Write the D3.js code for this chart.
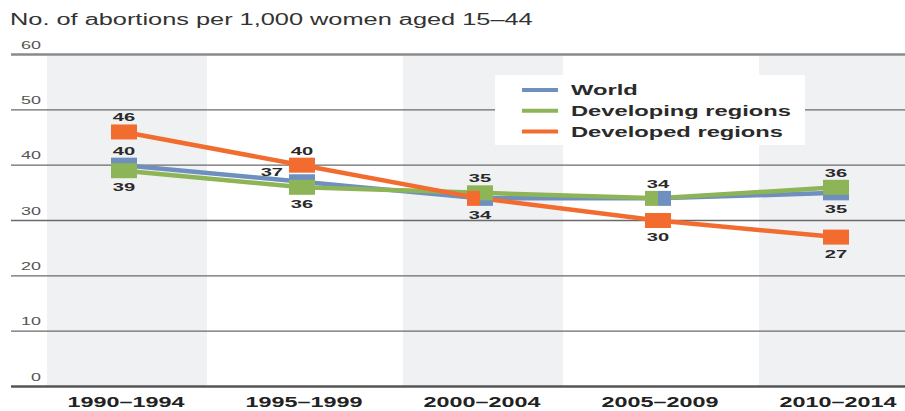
<!DOCTYPE html>
<html>
<head>
<meta charset="utf-8">
<script src="https://cdn.jsdelivr.net/npm/d3@7/dist/d3.min.js"></script>
<style>
  html, body { margin: 0; padding: 0; background: #fff; }
  svg { display: block; font-family: "Liberation Sans", Arial, Helvetica, sans-serif; }
</style>
</head>
<body>
<svg id="chart" width="905" height="411"></svg>
<script>
// Abortion rates per 1,000 women aged 15–44, by five-year period
const periods = ["1990–1994", "1995–1999", "2000–2004", "2005–2009", "2010–2014"];
const world = [40, 37, 34, 34, 35];
const developing = [39, 36, 35, 34, 36];
const developed = [46, 40, 34, 30, 27];
const yTicks = [0, 10, 20, 30, 40, 50, 60];
const titleText = "No. of abortions per 1,000 women aged 15–44";

// where each value label sits relative to its marker (null = shared label drawn by another series)
const worldLabelPos = ["above", "left", "below", "above", "below"];
const developingLabelPos = ["below", "below", "above", null, "above"];
const developedLabelPos = ["above", "above", null, "below", "below"];

const series = [
  { name: "World", values: world, color: "#6f8fbf", labelPos: worldLabelPos },
  { name: "Developing regions", values: developing, color: "#8db456", labelPos: developingLabelPos },
  { name: "Developed regions", values: developed, color: "#f26c30", labelPos: developedLabelPos }
];
// left-to-right order when markers with equal values share one slot
const sideOrder = ["Developed regions", "Developing regions", "World"];

const svg = d3.select("#chart");
const W = 905;

const x = d3.scalePoint().domain(periods).range([124, 836]);
const y = d3.scaleLinear().domain([0, 60]).range([386.5, 54.5]);

const bandW = 160;
const bandShift = 3;
const markW = 26, markH = 15;

// horizontally stretched text helper
function stretched(sel, sx) {
  return sel.attr("transform", d => `translate(${d.tx},${d.ty}) scale(${sx},1)`);
}

// alternating shaded columns
svg.append("g").selectAll("rect")
  .data(periods.filter((p, i) => i % 2 === 0))
  .join("rect")
  .attr("x", d => x(d) - bandW / 2 + bandShift)
  .attr("width", d => Math.min(bandW, W - (x(d) - bandW / 2 + bandShift)))
  .attr("y", y(60) + 1)
  .attr("height", y(0) - y(60) - 1)
  .attr("fill", "#f0f1f3");

// horizontal gridlines
svg.append("g").selectAll("line")
  .data(yTicks)
  .join("line")
  .attr("x1", 11).attr("x2", W)
  .attr("y1", d => y(d)).attr("y2", d => y(d))
  .attr("stroke", d => d === 0 ? "#555" : (d === 60 ? "#8a8a8a" : "#6a6a6a"))
  .attr("stroke-width", d => d === 0 ? 2.5 : (d === 60 ? 2.5 : 1.4));

// y tick labels
stretched(svg.append("g").selectAll("text")
  .data(yTicks.map(v => ({ v, tx: 41, ty: y(v) - 6 })))
  .join("text")
  .attr("text-anchor", "end")
  .attr("font-size", 11.5)
  .attr("fill", "#555")
  .text(d => d.v), 1.56);

// title
stretched(svg.append("text")
  .datum({ tx: 10, ty: 25 })
  .attr("font-size", 16)
  .attr("fill", "#333")
  .text(titleText), 1.585);

// x category labels
stretched(svg.append("g").selectAll("text")
  .data(periods.map(p => ({ p, tx: x(p) + 2, ty: 407 })))
  .join("text")
  .attr("text-anchor", "middle")
  .attr("font-size", 14)
  .attr("font-weight", "bold")
  .attr("fill", "#222")
  .text(d => d.p), 1.67);

// legend
const legend = svg.append("g");
legend.append("rect")
  .attr("x", 495).attr("y", 75).attr("width", 310).attr("height", 70)
  .attr("fill", "#fff");
const legendRows = series.map((s, i) => ({ s, ty: 95 + i * 20.8 }));
legend.selectAll("line")
  .data(legendRows)
  .join("line")
  .attr("x1", 522).attr("x2", 558)
  .attr("y1", d => d.ty - 5).attr("y2", d => d.ty - 5)
  .attr("stroke", d => d.s.color)
  .attr("stroke-width", 4);
stretched(legend.selectAll("text")
  .data(legendRows.map(d => ({ ...d, tx: 571 })))
  .join("text")
  .attr("font-size", 15)
  .attr("font-weight", "bold")
  .attr("fill", "#2a2a2a")
  .text(d => d.s.name), 1.58);

// series lines
const line = d3.line().x((d, i) => x(periods[i])).y(d => y(d));
svg.append("g").selectAll("path")
  .data(series)
  .join("path")
  .attr("d", s => line(s.values))
  .attr("fill", "none")
  .attr("stroke", s => s.color)
  .attr("stroke-width", 4.5);

// markers: equal values in one period split the slot side by side
const marks = [];
series.forEach(s => {
  s.values.forEach((v, i) => {
    const same = series.filter(t => t.values[i] === v)
      .sort((a, b) => sideOrder.indexOf(a.name) - sideOrder.indexOf(b.name));
    const k = same.indexOf(s), n = same.length;
    marks.push({ s, v, i, x0: x(periods[i]) - markW / 2 + k * markW / n, w: markW / n });
  });
});
svg.append("g").selectAll("rect")
  .data(marks)
  .join("rect")
  .attr("x", d => d.x0)
  .attr("width", d => d.w)
  .attr("y", d => y(d.v) - markH / 2)
  .attr("height", markH)
  .attr("fill", d => d.s.color);

// value labels
const labels = [];
series.forEach(s => {
  s.values.forEach((v, i) => {
    const pos = s.labelPos[i];
    if (!pos) return;
    const cx = x(periods[i]), cy = y(v);
    let tx = cx, ty, anchor = "middle";
    if (pos === "above") ty = cy - markH / 2 - 3;
    else if (pos === "below") ty = cy + markH / 2 + 13;
    else { tx = cx - markW / 2 - 6; ty = cy - 6; anchor = "end"; }
    labels.push({ v, tx, ty, anchor });
  });
});
stretched(svg.append("g").selectAll("text")
  .data(labels)
  .join("text")
  .attr("text-anchor", d => d.anchor)
  .attr("font-size", 11.5)
  .attr("font-weight", "bold")
  .attr("fill", "#2a2a2a")
  .text(d => d.v), 1.75);
</script>
</body>
</html>
